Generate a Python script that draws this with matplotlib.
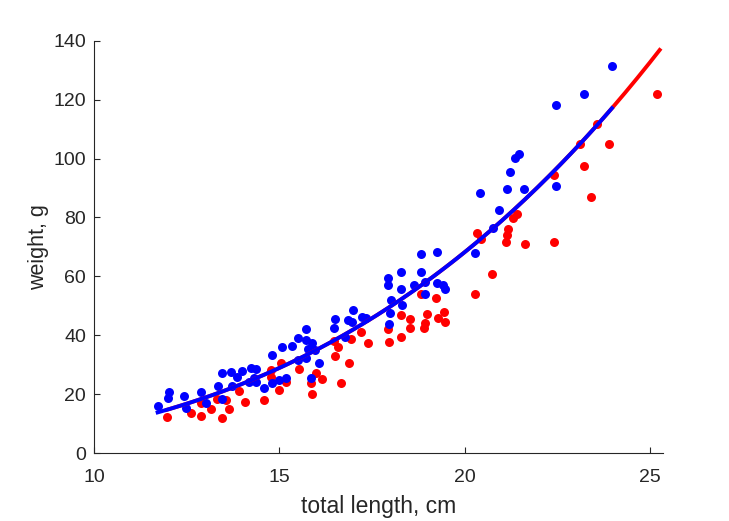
import numpy as np
import matplotlib.pyplot as plt

plt.rcParams['font.family'] = ['Liberation Sans', 'DejaVu Sans']

# blue group: total length (cm) and weight (g)
blueLength = [11.71, 11.98, 12.01, 12.42, 12.47, 12.87, 13.01, 13.33, 13.44, 13.44,
              13.68, 13.71, 13.84, 13.98, 14.22, 14.36, 14.30, 14.17, 14.38, 14.57,
              14.79, 14.79, 15.00, 15.06, 15.19, 15.35, 15.49, 15.49, 15.73, 15.73,
              15.76, 15.89, 15.73, 15.97, 16.08, 15.84, 16.46, 16.49, 16.78, 16.84,
              16.97, 17.00, 17.24, 17.35, 17.94, 17.94, 18.02, 17.99, 17.97, 18.29,
              18.29, 18.32, 18.64, 18.83, 18.83, 18.94, 18.94, 19.26, 19.26, 19.42,
              19.48, 20.28, 20.42, 20.77, 20.93, 21.15, 21.23, 21.36, 21.47, 21.61,
              22.47, 22.47, 23.22, 23.98]
blueWeight = [16.0, 18.8, 20.8, 19.4, 15.4, 20.8, 17.1, 22.8, 27.2, 18.4,
              27.6, 22.8, 25.9, 27.9, 28.9, 28.6, 25.5, 24.2, 24.2, 22.2,
              23.8, 33.3, 24.9, 36.1, 25.5, 36.4, 39.1, 31.6, 42.2, 38.4,
              35.4, 37.4, 32.3, 35.0, 30.6, 25.5, 42.5, 45.6, 39.5, 45.2,
              44.5, 48.6, 46.2, 45.9, 59.5, 57.1, 52.0, 47.6, 43.9, 61.5,
              55.7, 50.3, 57.1, 67.6, 61.5, 58.1, 54.0, 68.3, 57.8, 57.1,
              55.7, 67.9, 88.3, 76.4, 82.5, 89.7, 95.4, 100.2, 101.5, 89.7,
              90.7, 118.1, 121.9, 131.4]

# red group
redLength = [11.96, 12.60, 12.87, 12.87, 13.14, 13.30, 13.44, 13.55, 13.63, 13.90,
             14.06, 14.57, 14.76, 14.76, 15.03, 15.00, 15.19, 15.54, 15.86, 15.89,
             16.00, 16.16, 16.49, 16.46, 16.59, 16.65, 16.89, 16.94, 17.19, 17.40,
             17.94, 17.97, 18.27, 18.27, 18.53, 18.53, 18.83, 18.99, 18.94, 18.91,
             19.23, 19.29, 19.45, 19.48, 20.28, 20.34, 20.45, 20.74, 21.12, 21.15,
             21.17, 21.31, 21.42, 21.63, 22.41, 22.41, 23.12, 23.22, 23.41, 23.57,
             23.89, 25.21]
redWeight = [12.3, 13.7, 12.7, 17.1, 15.0, 18.4, 12.0, 18.1, 15.0, 21.1,
             17.4, 18.1, 28.3, 25.9, 30.6, 21.5, 24.2, 28.6, 23.8, 20.1,
             27.2, 25.2, 33.0, 38.1, 36.1, 23.8, 30.6, 38.8, 41.1, 37.4,
             42.2, 37.8, 46.9, 39.5, 45.6, 42.5, 54.0, 47.3, 44.2, 42.5,
             52.7, 45.9, 47.9, 44.5, 54.0, 74.7, 72.7, 60.8, 71.7, 74.1,
             76.1, 79.8, 81.2, 71.0, 71.7, 94.4, 104.9, 97.5, 86.9, 111.7,
             104.9, 121.9]


def powerFit(length, weight):
    # W = a * L^b; log-space fit weighted by W so it behaves like a
    # least-squares fit on the raw weights
    b, loga = np.polyfit(np.log(length), np.log(weight), 1, w=weight)
    return np.exp(loga), b


# one fit to all fish, drawn over each group's length range
a, b = powerFit(np.array(blueLength + redLength), np.array(blueWeight + redWeight))

fig = plt.figure(figsize=(7.29, 5.21), dpi=100)
ax = fig.add_axes([0.1294, 0.130, 0.7806, 0.792])

ax.scatter(redLength, redWeight, s=42, color=(1, 0, 0), linewidths=0, zorder=2)
ax.scatter(blueLength, blueWeight, s=42, color=(0, 0, 1), linewidths=0, zorder=3)

xr = np.linspace(min(redLength), 25.27, 200)
xb = np.linspace(min(blueLength), max(blueLength), 200)
ax.plot(xr, a * xr ** b, color=(1, 0, 0), lw=2.8, zorder=4)
ax.plot(xb, a * xb ** b, color=(0, 0, 1), lw=2.8, zorder=5)

ax.set_xlim(10, 25.37)
ax.set_ylim(0, 140)
ax.set_xticks([10, 15, 20, 25])
ax.set_yticks(np.arange(0, 141, 20))

axColor = '#262626'
for side in ['top', 'right']:
    ax.spines[side].set_visible(False)
for side in ['left', 'bottom']:
    ax.spines[side].set_color(axColor)
    ax.spines[side].set_linewidth(0.8)
ax.tick_params(direction='in', length=4, width=0.8, colors=axColor, labelsize=14)
ax.tick_params(axis='x', pad=11)
ax.tick_params(axis='y', pad=6)
ax.set_xlabel('total length, cm', fontsize=16.5, color=axColor, labelpad=7)
ax.set_ylabel('weight, g', fontsize=15.5, color=axColor, labelpad=3)

fig.savefig('out.png', dpi=100)
